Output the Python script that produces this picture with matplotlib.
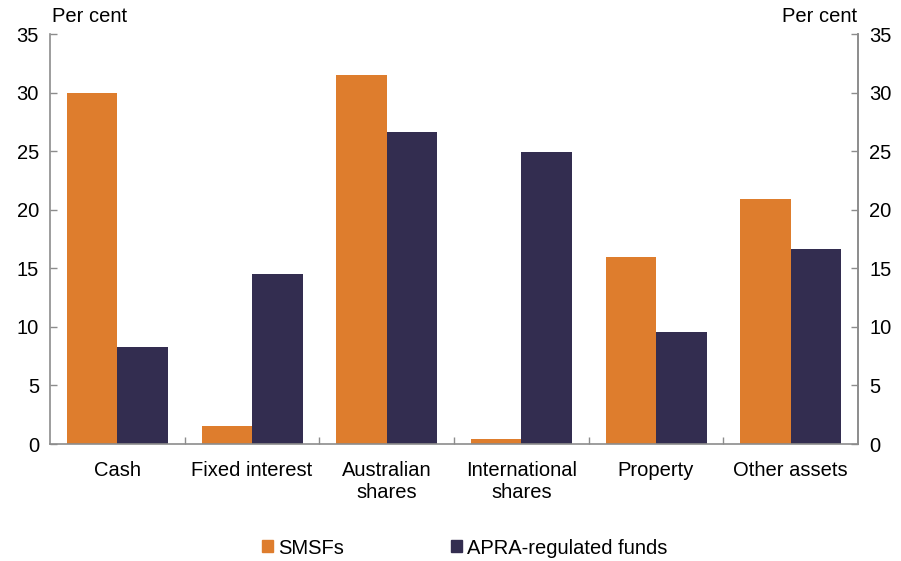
import matplotlib
matplotlib.use("Agg")
import matplotlib.pyplot as plt
import numpy as np
from matplotlib.patches import Patch

plt.rcParams['font.family'] = ['Liberation Sans', 'DejaVu Sans']

categories = ["Cash", "Fixed interest", "Australian\nshares", "International\nshares", "Property", "Other assets"]
smsf = [30.0, 1.5, 31.5, 0.4, 16.0, 20.9]
apra = [8.3, 14.5, 26.6, 24.9, 9.6, 16.65]
yticks = [0, 5, 10, 15, 20, 25, 30, 35]

orange = "#DE7D2D"
navy = "#332D50"
grey = "#8C8C8C"
FS = 14.5

fig = plt.figure(figsize=(9.01, 5.61), dpi=100)
ax = fig.add_axes([50/901, 117/561, 808/901, 410/561])

x = np.arange(len(categories))
w = 0.375
ax.bar(x - w/2, smsf, width=w, color=orange, label="SMSFs")
ax.bar(x + w/2, apra, width=w, color=navy, label="APRA-regulated funds")

ax.set_xlim(-0.5, len(categories) - 0.5)
ax.set_ylim(0, 35)
ax.set_yticks(yticks)
ax.set_yticklabels([str(t) for t in yticks], fontsize=FS)
ax.set_xticks(x)
ax.set_xticklabels(categories, fontsize=FS, linespacing=1.25)
ax.tick_params(axis='x', length=0, pad=12)
ax.set_xticks(np.arange(0.5, len(categories) - 0.5, 1), minor=True)
ax.tick_params(axis='x', which='minor', direction='in', length=5, color=grey, width=1)
ax.tick_params(axis='y', direction='in', length=5, color=grey, width=1, pad=8)

ax.spines['top'].set_visible(False)
for s in ['left', 'right', 'bottom']:
    ax.spines[s].set_color(grey)
    ax.spines[s].set_linewidth(1.2)

ax2 = ax.twinx()
ax2.set_ylim(0, 35)
ax2.set_yticks(yticks)
ax2.set_yticklabels([str(t) for t in yticks], fontsize=FS)
ax2.tick_params(axis='y', direction='in', length=5, color=grey, width=1, pad=8)
for s in ['top', 'left', 'bottom']:
    ax2.spines[s].set_visible(False)
ax2.spines['right'].set_color(grey)
ax2.spines['right'].set_linewidth(1.2)

fig.text(52/901, 1 - 17/561, "Per cent", fontsize=FS, ha='left', va='center')
fig.text(857/901, 1 - 17/561, "Per cent", fontsize=FS, ha='right', va='center')

handles = [Patch(color=orange, label="SMSFs"), Patch(color=navy, label="APRA-regulated funds")]
fig.legend(handles=handles, loc='center', bbox_to_anchor=(465/901, 1 - 548/561), ncol=2,
           frameon=False, fontsize=FS, handlelength=0.55, handleheight=0.55,
           handletextpad=0.25, columnspacing=5.3)

fig.savefig("out.png", dpi=100)
